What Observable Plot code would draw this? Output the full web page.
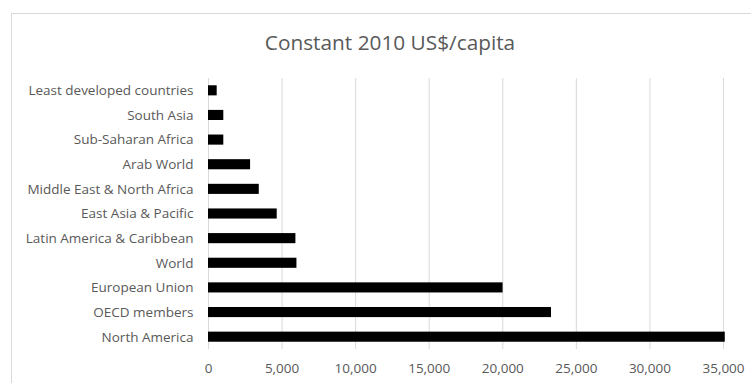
<!DOCTYPE html>
<html>
<head>
<meta charset="utf-8">
<script src="https://cdn.jsdelivr.net/npm/d3@7"></script>
<script src="https://cdn.jsdelivr.net/npm/@observablehq/plot@0.6"></script>
<style>
  body { margin: 0; background: #fff; }
  #wrap { position: relative; width: 751px; height: 383px; overflow: hidden; font-family: "Open Sans", sans-serif; }
  #border { position: absolute; left: 11px; top: 13px; width: 900px; height: 500px; border-left: 1.5px solid #d9d9d9; border-top: 1.5px solid #d9d9d9; }
  #title { position: absolute; top: 28px; left: 0; width: 780px; text-align: center; font-size: 20.8px; color: #595959; }
  #chart { position: absolute; left: 0; top: 0; }
</style>
</head>
<body>
<div id="wrap">
  <div id="border"></div>
  <div id="chart"></div>
  <div id="title">Constant 2010 US$/capita</div>
</div>
<script>
const categories = [
  "Least developed countries",
  "South Asia",
  "Sub-Saharan Africa",
  "Arab World",
  "Middle East & North Africa",
  "East Asia & Pacific",
  "Latin America & Caribbean",
  "World",
  "European Union",
  "OECD members",
  "North America"
];
const values = [590, 1040, 1040, 2860, 3450, 4670, 5940, 6010, 20020, 23310, 35120];
const xTicks = [0, 5000, 10000, 15000, 20000, 25000, 30000, 35000];

const data = categories.map((c, i) => ({category: c, value: values[i]}));

const chart = Plot.plot({
  width: 751,
  height: 383,
  marginLeft: 208,
  marginRight: 28,
  marginTop: 78,
  marginBottom: 34,
  style: {fontFamily: "Open Sans, sans-serif", fontSize: "13.5px", color: "#595959", background: "transparent"},
  x: {domain: [0, 35000], ticks: xTicks, tickFormat: d3.format(","), label: null},
  y: {domain: categories, paddingInner: 0.59, paddingOuter: 0.295, round: false, label: null},
  marks: [
    Plot.gridX(xTicks, {stroke: "#d9d9d9", strokeOpacity: 1, strokeWidth: 1}),
    Plot.barX(data, {x: "value", y: "category", fill: "black"}),
    Plot.axisX({ticks: xTicks, tickSize: 0, tickPadding: 14, tickFormat: d3.format(","), label: null, fill: "#595959"}),
    Plot.axisY({tickSize: 0, tickPadding: 15, label: null, fill: "#595959"})
  ]
});
document.getElementById("chart").appendChild(chart);
</script>
</body>
</html>
